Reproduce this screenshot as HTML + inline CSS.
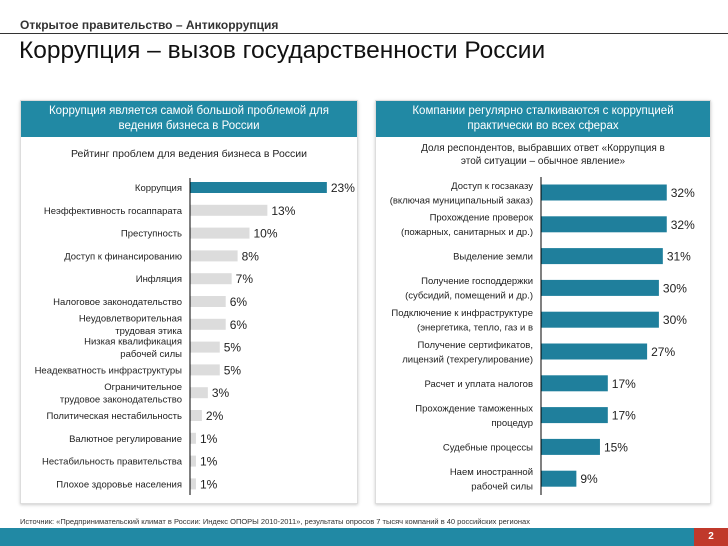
<!DOCTYPE html>
<html><head><meta charset="utf-8">
<style>
body{margin:0;width:728px;height:546px;background:#fff;position:relative;overflow:hidden;font-family:"Liberation Sans","Noto Sans CJK SC",sans-serif;}
.abs{position:absolute}
.panel{position:absolute;top:100px;height:402px;border:1px solid #ddd;box-shadow:0 1px 3px #ccc;background:#fff}
.ph{background:#2189a4;color:#fff;font-size:11.5px;text-align:center;line-height:15px;padding-top:3px;height:33px}
</style></head><body>
<div class="abs" style="left:20px;top:18px;font-size:12px;font-weight:bold;color:#333">Открытое правительство – Антикоррупция</div>
<div class="abs" style="left:0;top:33px;width:728px;height:1px;background:#333"></div>
<div class="abs" style="left:19px;top:37px;font-size:24.5px;color:#111">Коррупция – вызов государственности России</div>

<div class="panel" style="left:20px;width:336px">
 <div class="ph">Коррупция является самой большой проблемой для<br>ведения бизнеса в России</div>
 <div style="text-align:center;font-size:10.5px;color:#222;margin-top:11px">Рейтинг проблем для ведения бизнеса в России</div>
</div>
<div class="panel" style="left:375px;width:334px">
 <div class="ph">Компании регулярно сталкиваются с коррупцией<br>практически во всех сферах</div>
 <div style="text-align:center;font-size:10px;color:#222;margin-top:5px;line-height:13px">Доля респондентов, выбравших ответ «Коррупция в<br>этой ситуации – обычное явление»</div>
</div>

<svg class="abs" style="left:0;top:0" width="728" height="546" id="charts"></svg>

<div class="abs" style="left:20px;top:517px;font-size:7.5px;color:#333">Источник: «Предпринимательский климат в России: Индекс ОПОРЫ 2010-2011», результаты опросов 7 тысяч компаний в 40 российских регионах</div>
<div class="abs" style="left:0;top:528px;width:728px;height:18px;background:#2189a4"></div>
<div class="abs" style="left:694px;top:528px;width:34px;height:18px;background:#c0392b;color:#fff;font-size:10px;font-weight:bold;text-align:center;line-height:18px">2</div>

<script>
const leftCats=["Коррупция","Неэффективность госаппарата","Преступность","Доступ к финансированию","Инфляция","Налоговое законодательство","Неудовлетворительная|трудовая этика","Низкая квалификация|рабочей силы","Неадекватность инфраструктуры","Ограничительное|трудовое законодательство","Политическая нестабильность","Валютное регулирование","Нестабильность правительства","Плохое здоровье населения"];
const leftVals=[23,13,10,8,7,6,6,5,5,3,2,1,1,1];
const rightCats=["Доступ к госзаказу|(включая муниципальный заказ)","Прохождение проверок|(пожарных, санитарных и др.)","Выделение земли","Получение господдержки|(субсидий, помещений и др.)","Подключение к инфраструктуре|(энергетика, тепло, газ и в","Получение сертификатов,|лицензий (техрегулирование)","Расчет и уплата налогов","Прохождение таможенных|процедур","Судебные процессы","Наем иностранной|рабочей силы"];
const rightVals=[32,32,31,30,30,27,17,17,15,9];
const NS="http://www.w3.org/2000/svg";
const svg=document.getElementById('charts');
function mk(t,a){const e=document.createElementNS(NS,t);for(const k in a)e.setAttribute(k,a[k]);svg.appendChild(e);return e;}
function chart(cats,vals,o){
  const x=v=>o.x0+v*o.k;
  const y=i=>o.y0+i*o.step;
  cats.forEach((c,i)=>{
    const r=mk('rect',{x:o.x0,y:y(i)-o.bh/2,width:x(vals[i])-o.x0,height:o.bh,fill:(o.hl&&i===0)||!o.hl?'#1f7f9c':'#dcdcdc'});
    
    
    const t=mk('text',{x:x(vals[i])+4,y:y(i)+4.5,'font-size':12,fill:'#222'});
    t.textContent=vals[i]+'%';
    
    
    const lines=c.split('|');
    lines.forEach((ln,j)=>{
      const l=mk('text',{x:o.x0-8,y:y(i)+3.5+(j-(lines.length-1)/2)*o.lh,'font-size':9.5,'text-anchor':'end',fill:'#222'});
      l.textContent=ln;
      
      
    });
  });
  const ax=mk('line',{x1:o.x0,x2:o.x0,y1:o.a0,y2:o.a1,stroke:'#000','stroke-width':1});
  
  
}
chart(leftCats,leftVals,{p:'left',x0:190,k:5.95,y0:187.5,step:22.8,bh:11,lh:12.5,hl:true,a0:178,a1:495});
chart(rightCats,rightVals,{p:'right',x0:541,k:3.93,y0:192.5,step:31.8,bh:16,lh:14.5,hl:false,a0:177,a1:495});
</script>
</body></html>
